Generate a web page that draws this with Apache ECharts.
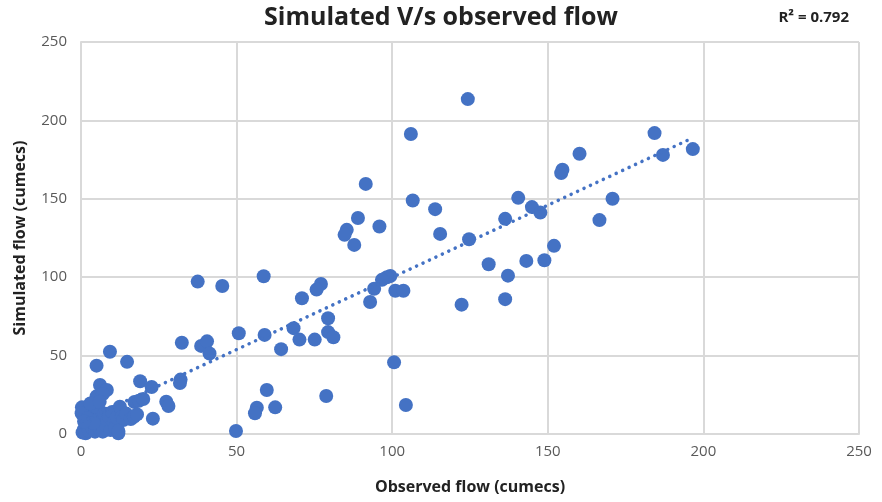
<!DOCTYPE html>
<html>
<head>
<meta charset="utf-8">
<script src="https://cdn.jsdelivr.net/npm/echarts@6/dist/echarts.min.js"></script>
<style>html,body{margin:0;padding:0;background:#fff}#c{width:882px;height:502px}</style>
</head>
<body>
<div id="c"></div>
<script>
// Observed (x) and simulated (y) flow, cumecs
const observed = [
124.3,106.0,184.3,160.2,187.0,196.6,154.7,154.3,91.5,170.8,
140.5,106.6,144.9,113.8,147.6,89.0,136.3,166.6,95.9,85.4,
84.7,115.4,124.7,87.8,152.0,148.9,143.1,131.0,137.2,99.4,
98.3,96.7,58.7,37.5,77.1,75.7,45.4,94.2,101.0,103.6,
71.0,136.3,92.9,122.3,79.4,68.3,79.4,81.1,50.7,59.0,
70.2,75.1,64.3,32.4,38.6,40.5,41.3,100.6,104.4,78.8,
59.7,56.5,55.9,62.4,49.8,32.0,31.8,19.0,22.7,17.2,
18.6,20.0,27.4,28.1,23.1,9.3,5.0,14.8,6.1,8.3,
5.0,7.0,
0.7,0.3,0.2,0.5,1.0,1.5,2.0,2.5,3.0,3.5,
4.0,4.5,5.0,5.5,6.0,6.5,7.0,7.5,8.0,8.5,
9.0,9.5,10.0,10.5,11.0,11.5,12.0,12.5,13.1,13.6,
12.0,14.5,16.0,17.0,18.0,3.0,6.0,2.0,4.0,1.0
];
const simulated = [
213.6,191.3,191.9,178.7,178.0,181.7,168.5,166.4,159.5,150.0,
150.6,148.9,144.7,143.4,141.2,137.8,137.2,136.4,132.3,130.2,
127.0,127.6,124.2,120.6,120.0,110.8,110.4,108.3,101.0,100.8,
100.0,98.3,100.6,97.2,95.7,92.1,94.4,92.6,91.4,91.4,
86.6,86.0,84.2,82.5,73.8,67.5,65.0,61.7,64.3,63.2,
60.2,60.2,54.1,58.2,56.2,59.1,51.3,45.7,18.5,24.2,
28.1,16.8,13.2,17.0,1.9,34.7,32.5,33.6,30.0,20.4,
21.2,22.3,20.6,17.9,9.8,52.5,43.6,46.0,31.3,28.1,
24.0,25.5,
15.3,17.0,13.2,1.0,3.0,0.5,5.5,2.0,8.5,4.0,
11.5,1.5,6.5,16.0,3.0,10.0,1.5,13.0,5.5,8.5,
11.0,2.5,14.0,7.0,4.0,10.5,0.5,17.4,11.0,8.9,
2.0,13.0,9.5,11.0,12.5,19.5,20.5,10.0,7.0,8.0
];
// Linear trendline
const trendSlope = 0.921;
const trendIntercept = 7.8;
const xTicks = [0, 50, 100, 150, 200, 250];
const yTicks = [0, 50, 100, 150, 200, 250];
const titleText = 'Simulated V/s observed flow';
const r2Text = 'R\u00B2 = 0.792';

const points = observed.map((x, i) => [x, simulated[i]]);
const xMinData = Math.min(...observed), xMaxData = Math.max(...observed);
const trend = [xMinData, xMaxData].map(x => [x, trendSlope * x + trendIntercept]);

const font = '"Open Sans", "Noto Sans", sans-serif';
const chart = echarts.init(document.getElementById('c'));
chart.setOption({
  animation: false,
  backgroundColor: '#fff',
  title: {
    text: titleText, left: 'center', top: 0,
    textStyle: { fontFamily: font, fontSize: 25, fontWeight: 'bold', color: '#222' }
  },
  graphic: [{
    type: 'text', right: 33, top: 10,
    style: { text: r2Text, fontFamily: font, fontSize: 15, fontWeight: 'bold', fill: '#222' }
  }],
  grid: { left: 81, right: 23, top: 42, bottom: 68 },
  xAxis: {
    type: 'value', min: xTicks[0], max: xTicks[xTicks.length - 1], interval: 50,
    name: 'Observed flow (cumecs)', nameLocation: 'middle', nameGap: 45,
    nameTextStyle: { fontFamily: font, fontSize: 16, fontWeight: 'bold', color: '#222' },
    axisLine: { show: true, lineStyle: { color: '#d9d9d9', width: 2 } },
    axisTick: { show: false },
    axisLabel: { fontFamily: font, fontSize: 15, color: '#595959', margin: 10 },
    splitLine: { show: true, lineStyle: { color: '#d9d9d9', width: 2 } }
  },
  yAxis: {
    type: 'value', min: yTicks[0], max: yTicks[yTicks.length - 1], interval: 50,
    name: 'Simulated flow (cumecs)', nameLocation: 'middle', nameGap: 53,
    nameTextStyle: { fontFamily: font, fontSize: 16, fontWeight: 'bold', color: '#222' },
    axisLine: { show: true, lineStyle: { color: '#d9d9d9', width: 2 } },
    axisTick: { show: false },
    axisLabel: { fontFamily: font, fontSize: 15, color: '#595959', margin: 14 },
    splitLine: { show: true, lineStyle: { color: '#d9d9d9', width: 2 } }
  },
  series: [{
    type: 'scatter', data: points, symbolSize: 14,
    itemStyle: { color: '#4472C4', opacity: 1 }, z: 3
  }, {
    type: 'line', data: trend, symbol: 'none', z: 4,
    lineStyle: { color: '#4472C4', width: 3.5, type: [0.1, 7], cap: 'round' }
  }]
});
</script>
</body>
</html>
